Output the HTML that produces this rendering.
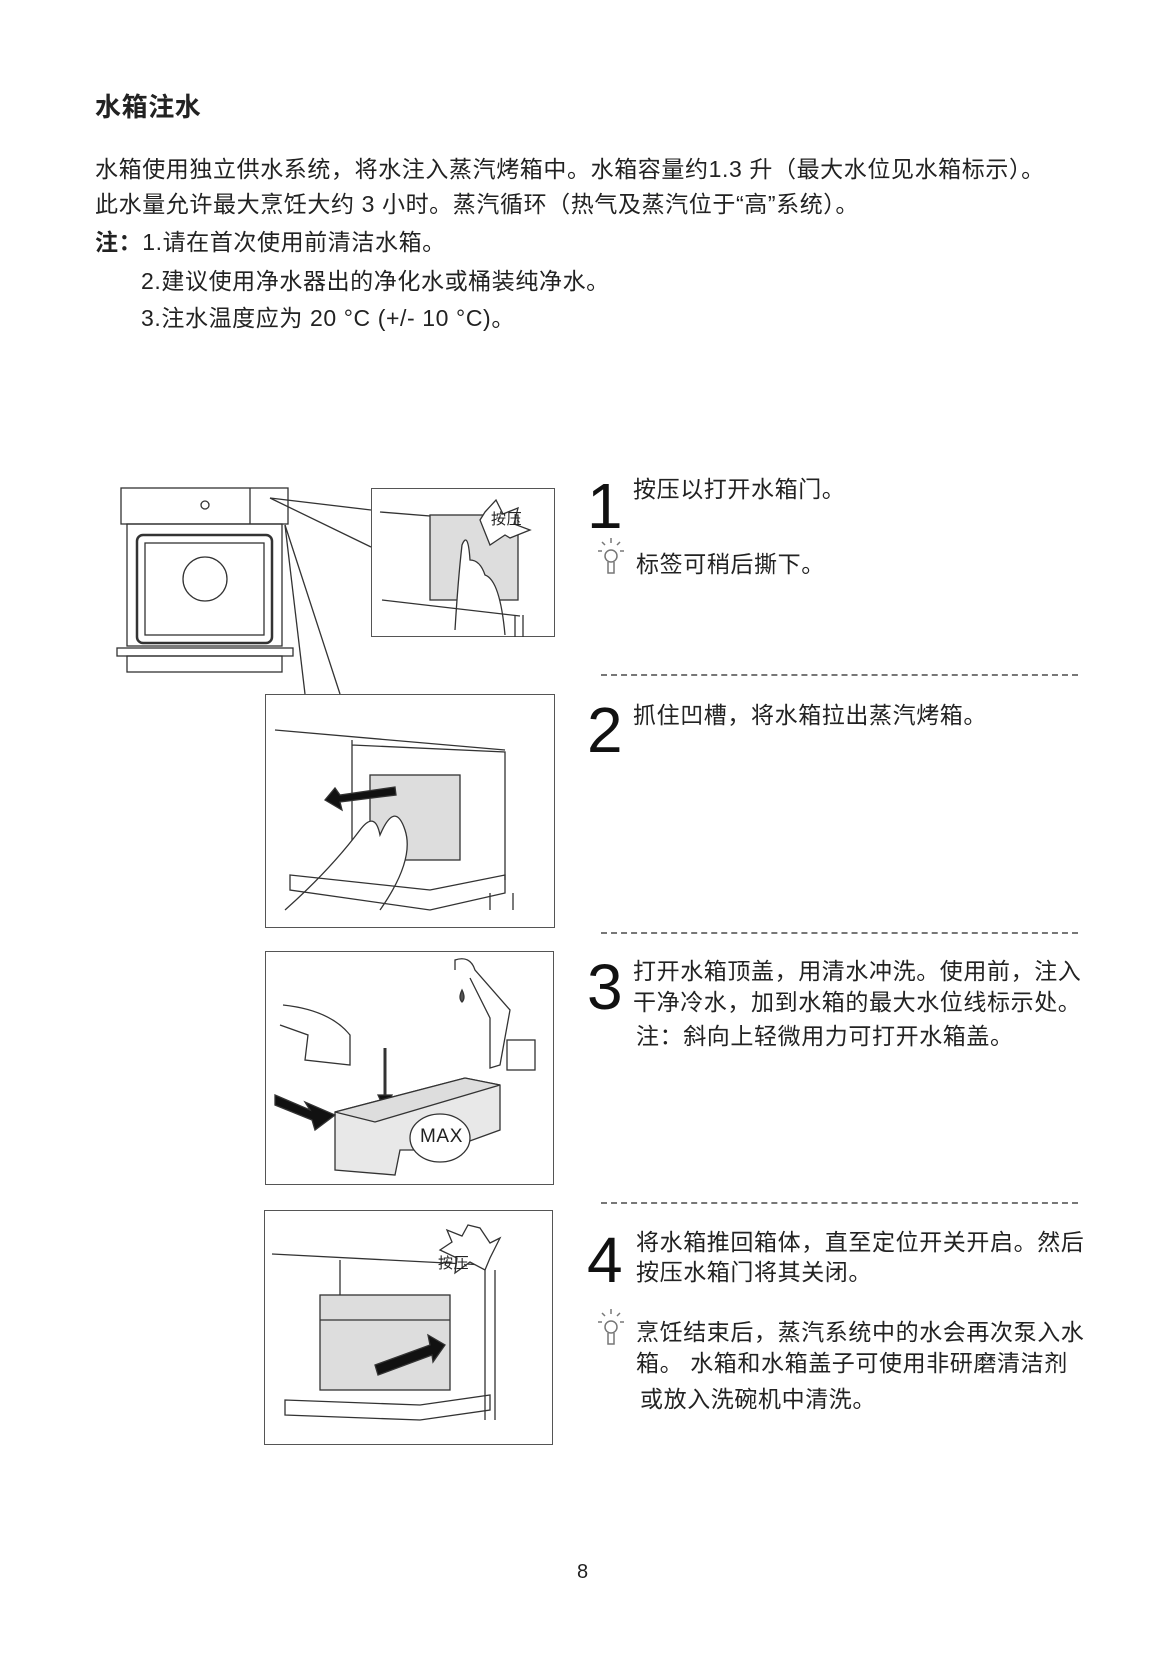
<!DOCTYPE html>
<html><head><meta charset="utf-8">
<style>
body{margin:0;background:#fff;}
#p{position:relative;width:1166px;height:1654px;overflow:hidden;font-family:"Liberation Sans","Noto Sans CJK SC",sans-serif;color:#222;}
.t{position:absolute;white-space:nowrap;font-size:23px;letter-spacing:0.6px;line-height:1;}
.n{position:absolute;font-size:64px;line-height:1;font-family:"Liberation Sans",sans-serif;color:#111;}
.d{position:absolute;left:601px;width:477px;border-top:2px dashed #777;}
.b{position:absolute;border:1px solid #555;box-sizing:border-box;}
svg{position:absolute;left:0;top:0;}
</style></head><body><div id="p">
<div class="t" style="left:95px;top:94px;font-size:26px;font-weight:bold;">水箱注水</div>
<div class="t" style="left:95px;top:158px;">水箱使用独立供水系统，将水注入蒸汽烤箱中。水箱容量约1.3 升（最大水位见水箱标示）。</div>
<div class="t" style="left:95px;top:193px;">此水量允许最大烹饪大约 3 小时。蒸汽循环（热气及蒸汽位于“高”系统）。</div>
<div class="t" style="left:95px;top:231px;"><b>注：</b>1.请在首次使用前清洁水箱。</div>
<div class="t" style="left:141px;top:270px;">2.建议使用净水器出的净化水或桶装纯净水。</div>
<div class="t" style="left:141px;top:307px;">3.注水温度应为 20 °C (+/- 10 °C)。</div>

<div class="b" style="left:371px;top:488px;width:184px;height:149px;"></div>
<div class="b" style="left:265px;top:694px;width:290px;height:234px;"></div>
<div class="b" style="left:265px;top:951px;width:289px;height:234px;"></div>
<div class="b" style="left:264px;top:1210px;width:289px;height:235px;"></div>

<svg width="1166" height="1654" fill="none" stroke="#333" stroke-width="1.3">
<!-- oven -->
<rect x="121" y="488" width="167" height="36"/>
<line x1="250" y1="488" x2="250" y2="524"/>
<circle cx="205" cy="505" r="4"/>
<rect x="127" y="524" width="155" height="122"/>
<rect x="137" y="535" width="135" height="108" rx="6" stroke-width="2.5"/>
<rect x="145" y="543" width="119" height="92"/>
<ellipse cx="205" cy="579" rx="22" ry="22"/>
<rect x="117" y="648" width="176" height="8"/>
<rect x="127" y="656" width="155" height="16"/>
<!-- zoom lines -->
<line x1="270" y1="498" x2="371" y2="510"/>
<line x1="270" y1="498" x2="371" y2="547"/>
<line x1="285" y1="525" x2="305" y2="694"/>
<line x1="285" y1="525" x2="340" y2="694"/>
<!-- box1 -->
<line x1="380" y1="512" x2="480" y2="520"/>
<rect x="430" y="515" width="88" height="85" fill="#ddd"/>
<path d="M485 512 L496 500 L503 514 L518 508 L514 524 L530 530 L510 538 L505 535 L490 545 L480 520 Z" fill="#fff"/>
<path d="M455 630 Q458 580 462 545 Q468 530 470 560 Q480 560 485 575 Q500 580 505 635" fill="#fff"/>
<line x1="382" y1="600" x2="520" y2="616"/>
<line x1="515" y1="615" x2="515" y2="637"/><line x1="523" y1="615" x2="523" y2="637"/>
<!-- box2 -->
<line x1="275" y1="730" x2="505" y2="750"/>
<path d="M352 740 L352 860 M352 745 L505 752 L505 880"/>
<rect x="370" y="775" width="90" height="85" fill="#ddd"/>
<path d="M395 787 L340 795 L335 788 L325 800 L342 810 L340 802 L396 795 Z" fill="#111"/>
<path d="M285 910 Q330 870 360 830 Q375 810 380 835 Q395 800 405 830 Q415 860 380 910" fill="#fff"/>
<path d="M290 875 L430 890 L505 875 L505 893 L430 910 L290 890 Z"/>
<line x1="490" y1="893" x2="490" y2="910"/><line x1="513" y1="893" x2="513" y2="910"/>
<!-- box3 faucet -->
<path d="M455 970 L455 960 Q470 955 475 970 L510 1010 L500 1065 L490 1068 L490 1018 L470 978" />
<path d="M462 990 q-4 8 0 12 q4 -4 0 -12Z" fill="#555"/>
<rect x="507" y="1040" width="28" height="30"/>
<path d="M283 1005 Q330 1010 350 1035 L350 1065 L305 1060 L308 1035 L280 1025"/>
<path d="M385 1048 L385 1102" stroke-width="3"/>
<path d="M378 1095 L385 1110 L392 1095Z" fill="#111"/>
<path d="M335 1112 L465 1078 L500 1085 L500 1130 L445 1150 L400 1150 L395 1175 L335 1170 Z" fill="#e8e8e8"/>
<path d="M335 1112 L465 1078 L500 1085 L375 1122 Z" fill="#ddd"/>
<path d="M275 1095 L310 1110 L305 1102 L335 1115 L315 1130 L312 1120 L275 1105 Z" fill="#111"/>
<ellipse cx="440" cy="1138" rx="30" ry="24" fill="#fff"/>
<!-- box4 -->
<line x1="272" y1="1254" x2="485" y2="1265"/>
<path d="M340 1260 L340 1370 M485 1265 L485 1420 M495 1270 L495 1420"/>
<path d="M480 1228 L490 1243 L500 1238 L490 1258 L485 1270 L470 1262 L455 1273 L457 1258 L440 1250 L452 1242 L447 1230 L462 1236 L468 1225 Z" fill="#fff"/>
<rect x="320" y="1295" width="130" height="95" fill="#ddd"/>
<line x1="320" y1="1320" x2="450" y2="1320"/>
<path d="M375 1365 L430 1345 L428 1335 L445 1345 L433 1362 L432 1355 L378 1375 Z" fill="#111"/>
<path d="M285 1400 L420 1405 L490 1395 L490 1410 L420 1420 L285 1415 Z"/>
<!-- bulbs -->
<g stroke="#777" stroke-width="1.5">
<circle cx="611" cy="556" r="6"/><path d="M608 562 L608 573 L614 573 L614 562"/>
<line x1="611" y1="538" x2="611" y2="543"/><line x1="598" y1="551" x2="602" y2="551"/><line x1="620" y1="551" x2="624" y2="551"/>
<line x1="602" y1="542" x2="605" y2="545"/><line x1="620" y1="542" x2="617" y2="545"/>
<circle cx="611" cy="1327" r="6"/><path d="M608 1333 L608 1344 L614 1344 L614 1333"/>
<line x1="611" y1="1309" x2="611" y2="1314"/><line x1="598" y1="1322" x2="602" y2="1322"/><line x1="620" y1="1322" x2="624" y2="1322"/>
<line x1="602" y1="1313" x2="605" y2="1316"/><line x1="620" y1="1313" x2="617" y2="1316"/>
</g>
</svg>
<div class="t" style="left:491px;top:512px;font-size:15px;">按压</div>
<div class="t" style="left:420px;top:1127px;font-size:19px;font-family:'Liberation Sans',sans-serif;">MAX</div>
<div class="t" style="left:438px;top:1256px;font-size:15px;">按压</div>

<div class="n" style="left:587px;top:474px;">1</div>
<div class="t" style="left:633px;top:478px;">按压以打开水箱门。</div>
<div class="t" style="left:636px;top:553px;">标签可稍后撕下。</div>
<div class="d" style="top:674px;"></div>
<div class="n" style="left:587px;top:698px;">2</div>
<div class="t" style="left:633px;top:704px;">抓住凹槽，将水箱拉出蒸汽烤箱。</div>
<div class="d" style="top:932px;"></div>
<div class="n" style="left:587px;top:955px;">3</div>
<div class="t" style="left:633px;top:960px;">打开水箱顶盖，用清水冲洗。使用前，注入</div>
<div class="t" style="left:633px;top:991px;">干净冷水，加到水箱的最大水位线标示处。</div>
<div class="t" style="left:636px;top:1025px;">注：斜向上轻微用力可打开水箱盖。</div>
<div class="d" style="top:1202px;"></div>
<div class="n" style="left:587px;top:1228px;">4</div>
<div class="t" style="left:636px;top:1231px;">将水箱推回箱体，直至定位开关开启。然后</div>
<div class="t" style="left:636px;top:1261px;">按压水箱门将其关闭。</div>
<div class="t" style="left:636px;top:1321px;">烹饪结束后，蒸汽系统中的水会再次泵入水</div>
<div class="t" style="left:636px;top:1352px;">箱。 水箱和水箱盖子可使用非研磨清洁剂</div>
<div class="t" style="left:640px;top:1388px;">或放入洗碗机中清洗。</div>
<div class="t" style="left:577px;top:1562px;font-size:20px;">8</div>
</div></body></html>
